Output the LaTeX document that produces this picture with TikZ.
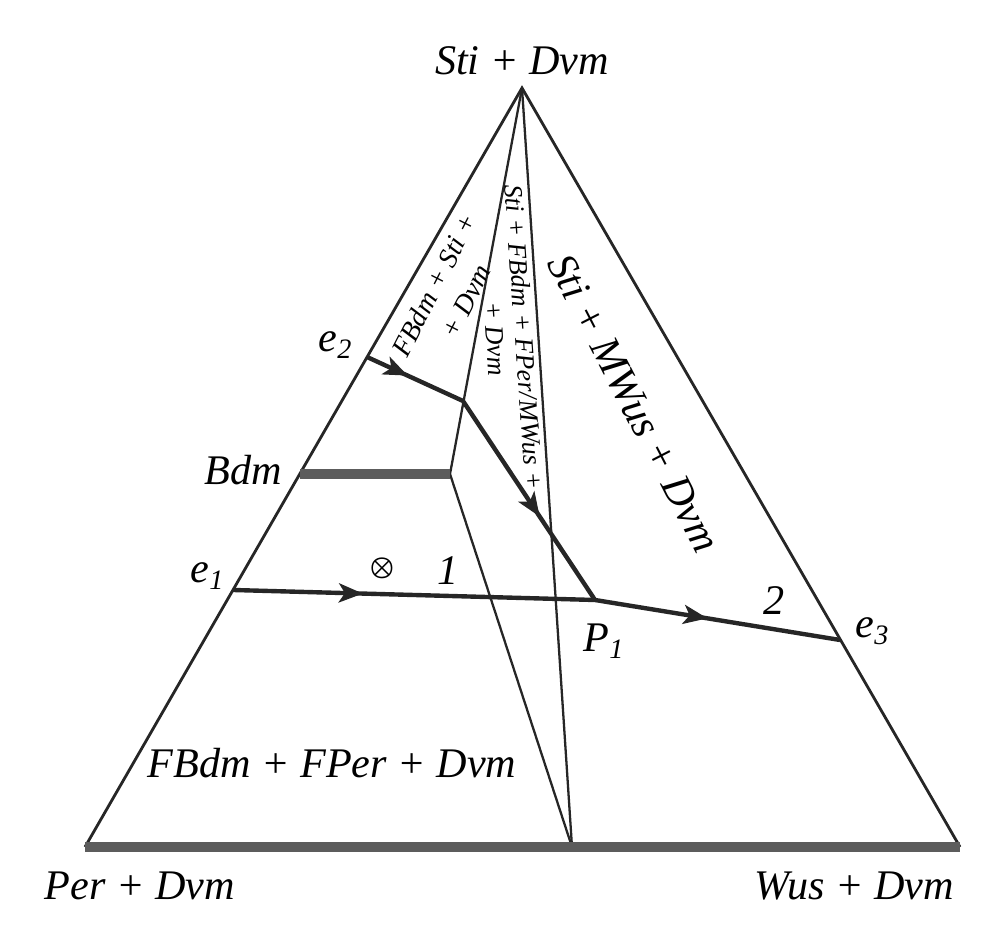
\documentclass[tikz,border=0pt]{standalone}
\usepackage{fontspec}
\usepackage{bm}
\setmainfont{Liberation Serif}
\usetikzlibrary{arrows.meta,decorations.markings}
\definecolor{bargray}{gray}{0.36}

\begin{document}
\begin{tikzpicture}[font=\itshape\fontsize{12}{14}\selectfont,
		side/.style={black!85, line width=0.8pt},
		divide/.style={black!85, line width=0.65pt},
		solidus/.style={bargray, line width=2.6pt},
		flow/.style={black!85, line width=1.25pt},
		arrowhead/.style={postaction={decorate, decoration={markings,
			mark=at position #1 with {\arrow{Stealth[length=2.4mm, width=1.9mm, inset=0.6mm]}}}}},
		lbl/.style={inner sep=0pt, anchor=base}]
				\useasboundingbox (0,0) rectangle (10.08,9.36);
				
				% Define the vertex coordinates
				\coordinate (T) at (5.22, 8.48);
				\coordinate (L) at (0.85, 0.89);
				\coordinate (R) at (9.60, 0.89);
				\coordinate (M) at (5.72, 0.89);
				
				% Points on the field boundaries
				\coordinate (Bl) at (3.00, 4.62);
				\coordinate (Br) at (4.50, 4.62);
				\coordinate (K)  at (4.63, 5.35);
				\coordinate (E2) at (3.67, 5.79);
				\coordinate (E1) at (2.33, 3.46);
				\coordinate (P1) at (5.95, 3.36);
				\coordinate (E3) at (8.40, 2.96);
				
				% Draw the triangle and the dividing lines
				\draw[side] (L) -- (T) -- (R);
				\draw[divide] (T) -- (Br) -- (M);
				\draw[divide] (T) -- (M);
				
				% Solid solution bars
				\draw[solidus] (L) -- (R);
				\draw[solidus] (Bl) -- (Br);
				
				% Crystallization paths
				\draw[flow, arrowhead=0.13, arrowhead=0.71] (E2) -- (K) -- (P1);
				\draw[flow, arrowhead=0.213, arrowhead=0.78] (E1) -- (P1) -- (E3);
				
				% Corner labels
				\node[lbl] (top) at (5.22, 8.61) {Sti + Dvm};
				\node[lbl] (per) at (1.40, 0.36) {Per + Dvm};
				\node[lbl] (wus) at (8.54, 0.36) {Wus + Dvm};
				
				% Point labels
				\node[lbl, anchor=base east] (le2) at (3.54, 5.84) {e\textsubscript{2}};
				\node[lbl, anchor=base east] (le1) at (2.26, 3.53) {e\textsubscript{1}};
				\node[lbl, anchor=base west] (le3) at (8.55, 2.98) {e\textsubscript{3}};
				\node[lbl, anchor=base west] (lp1) at (5.83, 2.84) {P\textsubscript{1}};
				\node[lbl] (bdm) at (2.43, 4.51) {Bdm};
				\node[lbl] (one) at (4.48, 3.51) {1};
				\node[lbl] (two) at (7.74, 3.21) {2};
				\node[inner sep=0pt] (cross) at (3.82, 3.68) {\fontsize{7.5}{7.5}\selectfont$\bm{\otimes}$};
				
				% Field labels
				\node[lbl] (fper) at (3.32, 1.58) {FBdm + FPer + Dvm};
				\node[inner sep=0pt, rotate=63, align=center, font=\itshape\fontsize{7.9}{10}\selectfont]
					(fsti) at (4.50, 6.43) {FBdm + Sti +\\+ Dvm};
				\node[inner sep=0pt, rotate=-86, align=center, font=\itshape\fontsize{7.5}{8.2}\selectfont]
					(fmix) at (5.10, 5.98) {Sti + FBdm + FPer/MWus +\\+ Dvm};
				\node[inner sep=0pt, rotate=-62.8, font=\itshape\fontsize{12}{14}\selectfont]
					(fmwus) at (6.34, 5.33) {Sti + MWus + Dvm};
				
			\end{tikzpicture}
\end{document}
